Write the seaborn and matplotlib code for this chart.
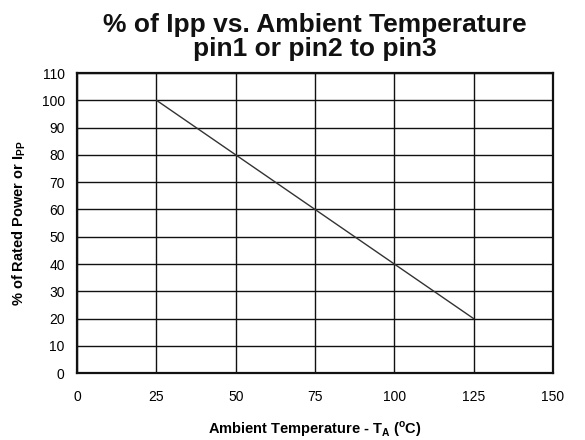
import matplotlib
matplotlib.use("Agg")
import matplotlib.pyplot as plt
import seaborn as sns
import pandas as pd

# данные кривой снижения мощности
temperature = [25, 125]
percent_ipp = [100, 20]
x_ticks = [0, 25, 50, 75, 100, 125, 150]
y_ticks = [0, 10, 20, 30, 40, 50, 60, 70, 80, 90, 100, 110]

df = pd.DataFrame({"temp": temperature, "pct": percent_ipp})

sns.set_style("white")
plt.rcParams["font.family"] = ["Liberation Sans", "DejaVu Sans"]
plt.rcParams["mathtext.fontset"] = "custom"
plt.rcParams["mathtext.rm"] = "Liberation Sans:bold"

fig, ax = plt.subplots(figsize=(5.85, 4.4), dpi=100)
fig.subplots_adjust(left=0.132, right=0.945, top=0.834, bottom=0.152)

sns.lineplot(data=df, x="temp", y="pct", ax=ax, color="#333333", linewidth=1.0)

ax.set_xlim(0, 150)
ax.set_ylim(0, 110)
ax.set_xticks(x_ticks)
ax.set_yticks(y_ticks)
ax.tick_params(labelsize=10, length=0, labelcolor="black")
ax.tick_params(axis="x", pad=12)
ax.tick_params(axis="y", pad=9)
ax.grid(True, color="#111111", linewidth=1.0)
for s in ax.spines.values():
    s.set_color("#111111")
    s.set_linewidth(1.6)

ax.set_xlabel(r"Ambient Temperature - T$_\mathregular{A}$ ($^\mathregular{o}$C)",
              fontsize=10.5, fontweight="bold", labelpad=11, color="black")
ax.set_ylabel(r"% of Rated Power or I$_\mathregular{PP}$",
              fontsize=10.5, fontweight="bold", labelpad=10, color="black")
ax.set_title("% of Ipp vs. Ambient Temperature\npin1 or pin2 to pin3",
             fontsize=19, fontweight="bold", linespacing=1.0, color="#111111", pad=12)

plt.savefig("out.png", dpi=100)
